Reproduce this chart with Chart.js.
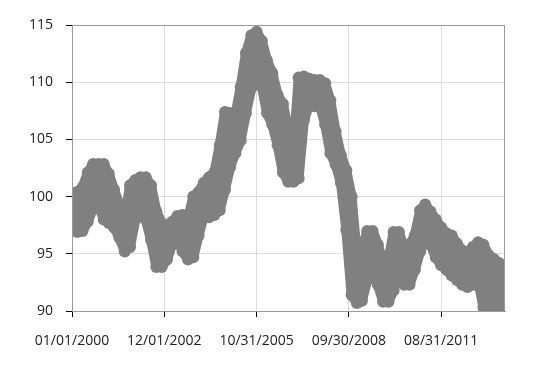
<!DOCTYPE html>
<html>
<head>
<meta charset="utf-8">
<script src="https://cdn.jsdelivr.net/npm/chart.js@4.4.1/dist/chart.umd.min.js"></script>
<style>
    html, body { margin: 0; padding: 0; background: #fff; }
    #trendCanvas { display: block; }
</style>
</head>
<body>
<canvas id="trendCanvas" width="536" height="378"></canvas>
<script>
// the series is a dense, noisy daily band; read here every two months as
// the top (highs) and bottom (lows) of the band
const months = [
    '2000-01', '2000-03', '2000-05', '2000-07', '2000-09', '2000-11',
    '2001-01', '2001-03', '2001-05', '2001-07', '2001-09', '2001-11',
    '2002-01', '2002-03', '2002-05', '2002-07', '2002-09', '2002-11',
    '2003-01', '2003-03', '2003-05', '2003-07', '2003-09', '2003-11',
    '2004-01', '2004-03', '2004-05', '2004-07', '2004-09', '2004-11',
    '2005-01', '2005-03', '2005-05', '2005-07', '2005-09', '2005-11',
    '2006-01', '2006-03', '2006-05', '2006-07', '2006-09', '2006-11',
    '2007-01', '2007-03', '2007-05', '2007-07', '2007-09', '2007-11',
    '2008-01', '2008-03', '2008-05', '2008-07', '2008-09', '2008-11',
    '2009-01', '2009-03', '2009-05', '2009-07', '2009-09', '2009-11',
    '2010-01', '2010-03', '2010-05', '2010-07', '2010-09', '2010-11',
    '2011-01', '2011-03', '2011-05', '2011-07', '2011-09', '2011-11',
    '2012-01', '2012-03', '2012-05', '2012-07', '2012-09', '2012-11',
    '2013-01', '2013-03', '2013-05', '2013-07', '2013-09'
]

const highs = [
    100.3, 100.4, 100.8, 102.1, 102.85, 102.85,
    102.85, 102.0, 100.6, 99.3, 98.1, 101.0,
    101.45, 101.7, 101.7, 101.0, 98.7, 97.7,
    97.4, 97.8, 98.3, 98.4, 98.1, 100.0,
    100.4, 101.2, 101.7, 102.1, 104.5, 107.4,
    107.3, 107.1, 109.6, 112.55, 114.1, 114.4,
    113.6, 111.9, 110.8, 108.9, 108.1, 105.8,
    104.1, 110.4, 110.5, 110.3, 110.2, 110.2,
    109.9, 108.4, 105.7, 103.6, 102.3, 100.0,
    94.9, 95.3, 97.0, 97.0, 95.8, 94.2,
    94.5, 96.9, 96.9, 95.5, 95.8, 96.6,
    98.8, 99.3, 98.7, 98.0, 97.3, 96.8,
    96.6, 95.9, 95.3, 95.1, 95.6, 96.0,
    95.8, 94.9, 94.55, 94.2, 93.85
]

const lows = [
    97.5, 96.9, 97.0, 97.8, 99.0, 99.3,
    98.0, 97.7, 97.3, 96.4, 95.2, 95.6,
    98.0, 98.9, 98.0, 96.2, 93.85, 93.85,
    94.5, 95.8, 96.2, 95.2, 94.5, 94.7,
    96.6, 98.3, 98.2, 98.4, 98.8, 100.6,
    102.6, 103.8, 104.9, 107.3, 109.5, 110.6,
    109.6, 107.3, 106.3, 104.5, 102.1, 101.3,
    101.3, 101.6, 106.7, 108.0, 107.9, 108.0,
    106.3, 103.8, 102.8, 101.2, 97.1, 91.4,
    90.7, 90.9, 92.7, 94.2, 92.3, 90.8,
    90.8, 91.8, 93.6, 92.3, 92.3, 93.6,
    95.2, 96.1, 95.8, 94.7, 94.0, 93.6,
    93.1, 92.7, 92.3, 92.1, 92.3, 92.7,
    90.3, 90.3, 90.3, 90.3, 90.5
]

const tickLabels = ['01/01/2000', '12/01/2002', '10/31/2005', '09/30/2008', '08/31/2011']

const dayMs = 86400000
const startMs = Date.UTC(2000, 0, 1)

function toDay(y, m, d) {
    return (Date.UTC(y, m - 1, d) - startMs) / dayMs
}

const tickDays = tickLabels.map(label => {
    const [m, d, y] = label.split('/').map(Number)
    return toDay(y, m, d)
})

const days = months.map(month => {
    const [y, m] = month.split('-').map(Number)
    return toDay(y, m, 1)
})

const highPoints = days.map((day, i) => ({ x: day, y: highs[i] }))
const lowPoints = days.map((day, i) => ({ x: day, y: lows[i] }))

const bandColor = '#808080'

const plotFrame = {
    id: 'plotFrame',
    afterDatasetsDraw(chart) {
        const { ctx, chartArea } = chart
        ctx.save()
        ctx.strokeStyle = '#9a9a9a'
        ctx.lineWidth = 1
        ctx.strokeRect(chartArea.left + 0.5, chartArea.top + 0.5,
            chartArea.right - chartArea.left - 1, chartArea.bottom - chartArea.top)
        ctx.restore()
    }
}

Chart.defaults.font.family = '"Open Sans", "Noto Sans", sans-serif'
Chart.defaults.font.size = 14
Chart.defaults.color = '#222'

const trendCanvas = document.querySelector('#trendCanvas')

const bandStyle = {
    showLine: true,
    borderColor: bandColor,
    borderWidth: 10,
    borderCapStyle: 'round',
    borderJoinStyle: 'round',
    pointRadius: 6,
    pointBorderWidth: 0,
    pointBackgroundColor: bandColor,
    pointHoverRadius: 6,
    backgroundColor: bandColor,
    clip: 0
}

const config = {
    type: 'scatter',
    data: {
        datasets: [
            { ...bandStyle, label: 'high', data: highPoints, fill: false },
            { ...bandStyle, label: 'low', data: lowPoints, fill: '-1' }
        ]
    },
    options: {
        responsive: false,
        animation: false,
        devicePixelRatio: 1,
        layout: {
            padding: { top: 25, right: 31, left: 0, bottom: 0 }
        },
        plugins: {
            legend: { display: false },
            tooltip: { enabled: false }
        },
        scales: {
            x: {
                type: 'linear',
                min: 0,
                max: toDay(2013, 9, 7),
                afterBuildTicks: axis => {
                    axis.ticks = tickDays.map(v => ({ value: v }))
                },
                afterFit: axis => {
                    axis.height = 67
                },
                grid: {
                    color: '#dcdcdc',
                    tickColor: '#000',
                    tickLength: 6
                },
                border: {
                    color: '#9a9a9a'
                },
                ticks: {
                    autoSkip: false,
                    maxRotation: 0,
                    padding: 16,
                    callback: (value, index) => tickLabels[index]
                }
            },
            y: {
                min: 90,
                max: 115,
                afterFit: axis => {
                    axis.width = 72
                },
                grid: {
                    color: '#dcdcdc',
                    tickColor: '#000',
                    tickLength: 6
                },
                border: {
                    color: '#9a9a9a'
                },
                ticks: {
                    stepSize: 5,
                    padding: 13
                }
            }
        }
    },
    plugins: [plotFrame]
}

new Chart(trendCanvas, config)
</script>
</body>
</html>
